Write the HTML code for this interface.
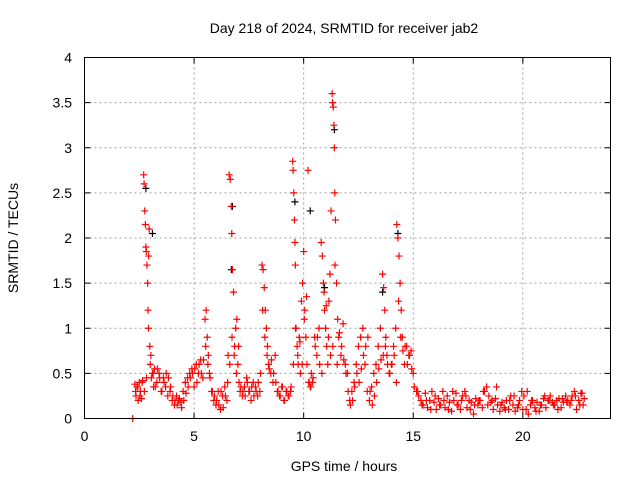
<!DOCTYPE html>
<html><head><meta charset="utf-8"><style>
body{margin:0;background:#fff}
svg{display:block;font-family:"Liberation Sans",sans-serif}
</style></head><body>
<svg id="chart" width="640" height="480" viewBox="0 0 640 480">
<rect width="640" height="480" fill="#fff"/>
<text x="344" y="33" font-size="14" text-anchor="middle">Day 218 of 2024, SRMTID for receiver jab2</text>
<text x="344" y="471" font-size="14" text-anchor="middle">GPS time / hours</text>
<text x="18" y="238" font-size="14" text-anchor="middle" transform="rotate(-90 18 238)">SRMTID / TECUs</text>
<g id="grid"></g>
<g id="black"></g>
<g id="red"></g>
<rect x="84.5" y="57.5" width="526" height="361" fill="none" stroke="#000" stroke-width="1"/>
<g id="ticks"></g>
</svg>
<script>
const xTicks = [0,5,10,15,20];
const yTicks = [0,0.5,1,1.5,2,2.5,3,3.5,4];
const yTickLabels = ["0","0.5","1","1.5","2","2.5","3","3.5","4"];
const redT = [2.2,2.3,2.35,2.4,2.45,2.5,2.55,2.6,2.65,2.7,2.72,2.75,2.78,2.8,2.82,2.85,2.88,2.9,2.92,2.95,2.98,3.0,3.05,3.1,3.15,3.2,3.3,3.4,3.5,3.6,3.7,3.8,3.9,4.0,4.1,4.2,4.3,4.4,4.5,4.6,4.7,4.8,4.9,5.0,5.1,5.2,5.3,5.4,5.5,5.55,5.6,5.65,5.7,5.8,5.9,6.0,6.1,6.2,6.3,6.4,6.5,6.55,6.6,6.65,6.7,6.72,6.75,6.8,6.85,6.9,6.95,7.0,7.05,7.1,7.2,7.3,7.4,7.5,7.6,7.7,7.8,7.9,8.0,8.1,8.15,8.2,8.25,8.3,8.35,8.4,8.5,8.6,8.7,8.8,8.9,9.0,9.1,9.2,9.3,9.4,9.5,9.52,9.55,9.58,9.6,9.62,9.65,9.7,9.75,9.8,9.85,9.9,9.95,10.0,10.05,10.1,10.15,10.2,10.25,10.3,10.35,10.4,10.5,10.6,10.7,10.8,10.85,10.9,10.95,11.0,11.05,11.1,11.15,11.2,11.25,11.3,11.32,11.35,11.38,11.4,11.42,11.45,11.5,11.55,11.6,11.7,11.8,11.9,12.0,12.1,12.2,12.3,12.4,12.5,12.6,12.7,12.8,12.9,13.0,13.1,13.2,13.3,13.4,13.5,13.6,13.65,13.7,13.75,13.8,13.9,14.0,14.1,14.2,14.25,14.3,14.35,14.4,14.45,14.5,14.6,14.7,14.8,14.9,15.0,15.2,15.4,15.6,15.8,16.0,16.2,16.4,16.6,16.8,17.0,17.2,17.4,17.6,17.8,18.0,18.2,18.4,18.6,18.8,19.0,19.2,19.4,19.6,19.8,20.0,20.2,20.4,20.6,20.8,21.0,21.2,21.4,21.6,21.8,22.0,22.2,22.4,22.6,22.7];
const redV = [0.0,0.38,0.25,0.35,0.2,0.4,0.3,0.22,0.42,2.7,2.6,2.3,2.15,1.9,1.85,1.7,1.5,1.2,1.0,2.1,0.8,0.6,0.45,0.5,0.35,0.55,0.4,0.5,0.3,0.45,0.35,0.25,0.3,0.2,0.15,0.25,0.2,0.18,0.3,0.4,0.45,0.5,0.55,0.35,0.6,0.5,0.65,0.45,1.1,1.2,0.9,0.7,0.5,0.3,0.2,0.15,0.3,0.1,0.25,0.35,0.2,0.7,2.7,2.65,2.35,2.05,1.65,1.4,0.8,1.0,1.1,0.6,0.4,0.3,0.25,0.35,0.45,0.3,0.2,0.4,0.35,0.25,0.3,1.7,1.65,1.45,1.2,1.0,0.8,0.6,0.5,0.4,0.7,0.3,0.25,0.35,0.2,0.3,0.25,0.3,2.85,2.75,2.5,2.2,1.95,1.7,1.0,0.8,0.6,0.9,0.5,1.3,1.5,1.85,1.2,0.9,0.6,2.75,0.4,0.35,0.5,0.4,0.9,0.7,1.0,1.95,1.8,1.5,1.2,1.0,0.8,0.6,1.3,1.6,2.3,3.6,3.5,3.45,3.25,3.0,2.5,2.2,1.5,1.1,0.9,0.7,1.05,0.6,0.5,0.2,0.3,0.4,0.6,0.8,0.9,1.0,0.6,0.3,0.2,0.35,0.5,0.6,0.8,1.0,1.6,1.45,1.2,0.9,0.7,0.5,0.6,0.8,1.0,2.15,2.0,1.8,1.5,1.2,0.9,0.6,0.8,0.7,0.75,0.5,0.3,0.15,0.2,0.1,0.25,0.15,0.2,0.1,0.3,0.15,0.2,0.25,0.1,0.15,0.2,0.3,0.15,0.2,0.35,0.15,0.1,0.2,0.25,0.15,0.1,0.3,0.2,0.08,0.15,0.25,0.2,0.15,0.1,0.22,0.18,0.2,0.25,0.15,0.28,0.2];
const red2T = [2.33,2.43,2.53,2.63,2.73,2.83,2.93,
3.03,3.13,3.23,3.33,3.43,3.53,3.63,3.73,3.83,3.93,
4.03,4.13,4.23,4.33,4.43,4.53,4.63,4.73,4.83,4.93,
5.03,5.13,5.23,5.33,5.43,5.53,5.63,5.73,5.83,5.93,
6.03,6.13,6.23,6.33,6.43,6.53,6.63,6.73,6.83,6.93,
7.03,7.13,7.23,7.33,7.43,7.53,7.63,7.73,7.83,7.93,
8.03,8.13,8.23,8.33,8.43,8.53,8.63,8.73,8.83,8.93,
9.03,9.13,9.23,9.33,9.43,9.53,9.63,9.73,9.83,9.93,
10.03,10.13,10.23,10.33,10.43,10.53,10.63,10.73,10.83,10.93,
11.03,11.13,11.23,11.33,11.43,11.53,11.63,11.73,11.83,11.93,
12.03,12.13,12.23,12.33,12.43,12.53,12.63,12.73,12.83,12.93,
13.03,13.13,13.23,13.33,13.43,13.53,13.63,13.73,13.83,13.93,
14.03,14.13,14.23,14.33,14.43,14.53,14.63,14.73,14.83,14.93,
15.05,15.15,15.25,15.35,15.45,15.55,15.65,15.75,15.85,15.95,
16.05,16.15,16.25,16.35,16.45,16.55,16.65,16.75,16.85,16.95,
17.05,17.15,17.25,17.35,17.45,17.55,17.65,17.75,17.85,17.95,
18.05,18.15,18.25,18.35,18.45,18.55,18.65,18.75,18.85,18.95,
19.05,19.15,19.25,19.35,19.45,19.55,19.65,19.75,19.85,19.95,
20.05,20.15,20.25,20.35,20.45,20.55,20.65,20.75,20.85,20.95,
21.05,21.15,21.25,21.35,21.45,21.55,21.65,21.75,21.85,21.95,
22.05,22.15,22.25,22.35,22.45,22.55,22.65,22.75,22.8];
const red2V = [0.3,0.35,0.25,0.4,0.3,0.45,1.8,
0.7,0.5,0.35,0.55,0.45,0.3,0.4,0.5,0.45,0.35,
0.25,0.2,0.15,0.22,0.12,0.2,0.28,0.35,0.45,0.5,
0.55,0.4,0.6,0.5,0.65,0.8,0.6,0.45,0.3,0.25,
0.2,0.15,0.3,0.12,0.25,0.4,0.6,0.9,0.7,0.5,
0.8,0.35,0.3,0.25,0.4,0.3,0.35,0.25,0.3,0.4,
0.5,1.2,0.9,0.7,0.55,0.65,0.5,0.4,0.3,0.25,
0.35,0.2,0.3,0.25,0.35,0.6,1.0,0.7,0.85,0.6,
1.1,1.35,0.4,0.35,0.45,0.8,0.9,0.6,0.5,1.4,
1.25,0.9,0.7,0.8,1.7,0.6,0.95,0.8,0.65,0.5,
0.3,0.15,0.2,0.35,0.5,0.4,0.55,0.7,0.8,0.9,
0.3,0.15,0.25,0.4,0.55,0.65,0.7,0.8,0.6,0.5,
0.6,0.7,0.4,1.3,0.9,0.75,0.8,0.6,0.7,0.55,
0.35,0.3,0.25,0.2,0.15,0.28,0.12,0.2,0.3,0.18,
0.1,0.22,0.15,0.3,0.12,0.25,0.18,0.08,0.2,0.28,
0.15,0.1,0.25,0.3,0.12,0.2,0.18,0.05,0.22,0.15,
0.2,0.12,0.3,0.35,0.25,0.18,0.1,0.22,0.15,0.08,
0.18,0.12,0.2,0.1,0.25,0.15,0.08,0.12,0.2,0.3,
0.25,0.1,0.05,0.15,0.2,0.12,0.18,0.08,0.15,0.22,
0.12,0.2,0.25,0.18,0.15,0.2,0.22,0.12,0.18,0.25,
0.2,0.15,0.25,0.3,0.1,0.2,0.28,0.15,0.22];
const blackT = [2.8,3.1,6.75,6.7,9.6,10.3,11.4,13.6,14.3,10.95];
const blackV = [2.55,2.05,2.35,1.65,2.4,2.3,3.2,1.4,2.05,1.45];
const X0=84.5, XW=526, Y0=418.5, YH=361;
const sx = t => X0 + t/24*XW;
const sy = v => Y0 - v/4*YH;
const NS="http://www.w3.org/2000/svg";
const grid=document.getElementById('grid'), ticks=document.getElementById('ticks');
function mk(tag, attrs, parent){const e=document.createElementNS(NS,tag);for(const k in attrs)e.setAttribute(k,attrs[k]);parent.appendChild(e);return e;}
xTicks.forEach((t,i)=>{
  const x=sx(t);
  if(t>0){const g=mk('line',{x1:x,x2:x,y1:57.5,y2:418.5,stroke:'#a0a0a0','stroke-dasharray':'2,3'},grid);
  
  }
  const tk=mk('path',{d:`M${x},418.5v-6M${x},57.5v6`,stroke:'#000'},ticks);
  
  
  const lb=mk('text',{x:x,y:441,'font-size':14,'text-anchor':'middle'},ticks);
  lb.textContent=String(t);
  
  
});
yTicks.forEach((v,i)=>{
  const y=sy(v);
  if(v>0&&v<4){const g=mk('line',{x1:84.5,x2:610.5,y1:y,y2:y,stroke:'#a0a0a0','stroke-dasharray':'2,3'},grid);
  
  }
  const tk=mk('path',{d:`M84.5,${y}h6M610.5,${y}h-6`,stroke:'#000'},ticks);
  
  
  const lb=mk('text',{x:72,y:y+5,'font-size':14,'text-anchor':'end'},ticks);
  lb.textContent=yTickLabels[i];
  
  
});
function plot(T,V,color,parent){
  T.forEach((t,i)=>{
    const x=sx(t), y=sy(V[i]);
    const p=mk('path',{d:`M${x-3.5},${y}h7M${x},${y-3.5}v7`,stroke:color,'stroke-width':1.2,fill:'none'},parent);
    
    
  });
}
plot(blackT,blackV,'#000',document.getElementById('black'));
plot(redT,redV,'#ff0000',document.getElementById('red'));
plot(red2T,red2V,'#ff0000',document.getElementById('red'));
</script>
</body></html>
